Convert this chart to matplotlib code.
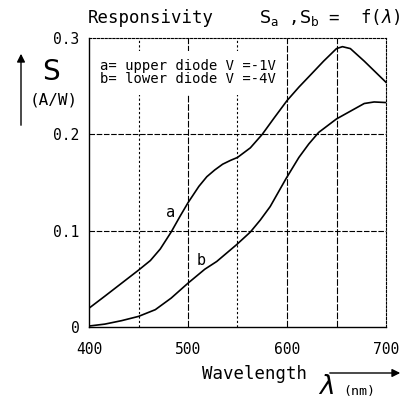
import matplotlib
matplotlib.use("Agg")
import matplotlib.pyplot as plt
from matplotlib.patches import Rectangle, FancyArrowPatch

# ---- data ----
wl_a = [400, 416, 433, 450, 462, 472, 483, 492, 500, 511, 519, 527, 535, 543,
        550, 563, 575, 587, 600, 612, 625, 637, 650, 656, 664, 678, 688, 700]
s_a = [0.0195, 0.032, 0.0455, 0.059, 0.069, 0.081, 0.0986, 0.115, 0.129, 0.146,
       0.156, 0.163, 0.169, 0.173, 0.176, 0.186, 0.200, 0.217, 0.235, 0.249,
       0.263, 0.276, 0.289, 0.291, 0.289, 0.276, 0.266, 0.254]

wl_b = [400, 416, 433, 450, 467, 483, 500, 517, 529, 549, 563, 573, 583, 599,
        612, 622, 632, 650, 664, 678, 688, 700]
s_b = [0.001, 0.003, 0.0066, 0.011, 0.018, 0.030, 0.0455, 0.060, 0.068, 0.0854,
       0.0986, 0.111, 0.125, 0.154, 0.176, 0.190, 0.202, 0.216, 0.224, 0.232,
       0.2336, 0.233]

x_ticks = [400, 500, 600, 700]
x_tick_labels = ["400", "500", "600", "700"]
y_ticks = [0, 0.1, 0.2, 0.3]
y_tick_labels = ["0", "0.1", "0.2", "0.3"]
grid_dotted_x = [450, 550]
grid_solid_x = [500, 600, 650]
grid_y = [0.1, 0.2]
legend_lines = ["a= upper diode V =-1V", "b= lower diode V =-4V"]

MONO = "DejaVu Sans Mono"
W, H = 404, 403
fig = plt.figure(figsize=(W / 100, H / 100), dpi=100)
fig.patch.set_facecolor("white")
ax = fig.add_axes([89 / W, 1 - 327 / H, (386 - 89) / W, (327 - 38) / H])
ax.set_xlim(400, 700)
ax.set_ylim(0, 0.3)

for x in grid_dotted_x:
    ax.axvline(x, color="black", lw=0.8, ls=(0, (2, 2)), zorder=1)
for x in grid_solid_x:
    ax.axvline(x, color="black", lw=0.8, ls=(0, (6, 1.5)), zorder=1)
for y in grid_y:
    ax.axhline(y, color="black", lw=0.8, ls=(0, (5, 1.5)), zorder=1)

# white box behind legend text
ax.add_patch(Rectangle((401, 0.241), 190, 0.045, facecolor="white",
                       edgecolor="none", zorder=2))

ax.plot(wl_a, s_a, color="black", lw=1.2, zorder=3)
ax.plot(wl_b, s_b, color="black", lw=1.2, zorder=3)

ax.text(482, 0.119, "a", fontsize=11, family=MONO, ha="center", va="center")
ax.text(513, 0.069, "b", fontsize=11, family=MONO, ha="center", va="center")

ax.text(411, 0.271, legend_lines[0], fontsize=10, family=MONO, va="center", zorder=4)
ax.text(411, 0.257, legend_lines[1], fontsize=10, family=MONO, va="center", zorder=4)

ax.set_xticks(x_ticks)
ax.set_xticklabels(x_tick_labels, family=MONO)
ax.set_yticks(y_ticks)
ax.set_yticklabels(y_tick_labels, family=MONO)
ax.tick_params(length=0, labelsize=10.5)
ax.tick_params(axis="x", pad=11)
ax.tick_params(axis="y", pad=7)

for side in ["left", "bottom"]:
    ax.spines[side].set_linewidth(1.0)
for side in ["top", "right"]:
    ax.spines[side].set_linewidth(0.8)
    ax.spines[side].set_linestyle((0, (2, 1.5)))

# titles
fig.text(88 / W, 1 - 18 / H, "Responsivity", fontsize=12.5, family=MONO,
         va="center", ha="left")
fig.text(400 / W, 1 - 18 / H, r"$\mathrm{S_a}$ ,$\mathrm{S_b}$ =  f($\lambda$)",
         fontsize=12.5, family=MONO, va="center", ha="right")

# y label
fig.text(51 / W, 1 - 72 / H, "S", fontsize=20, va="center", ha="center")
fig.text(54 / W, 1 - 100 / H, "(A/W)", fontsize=11.5, family=MONO,
         va="center", ha="center")
fig.add_artist(FancyArrowPatch(
    (21 / W, 1 - 128 / H), (21 / W, 1 - 51 / H), transform=fig.transFigure,
    arrowstyle="-|>", mutation_scale=12, color="black", lw=1.0))

# x label
fig.text(254 / W, 1 - 374 / H, "Wavelength", fontsize=12.5, family=MONO,
         va="center", ha="center")
fig.text(326 / W, 1 - 387 / H, r"$\lambda$", fontsize=19, va="center", ha="center")
fig.text(359 / W, 1 - 392 / H, "(nm)", fontsize=9.5, family=MONO,
         va="center", ha="center")
fig.add_artist(FancyArrowPatch(
    (327 / W, 1 - 373 / H), (403 / W, 1 - 373 / H), transform=fig.transFigure,
    arrowstyle="-|>", mutation_scale=12, color="black", lw=1.0))

fig.savefig("out.png", dpi=100, facecolor="white")
